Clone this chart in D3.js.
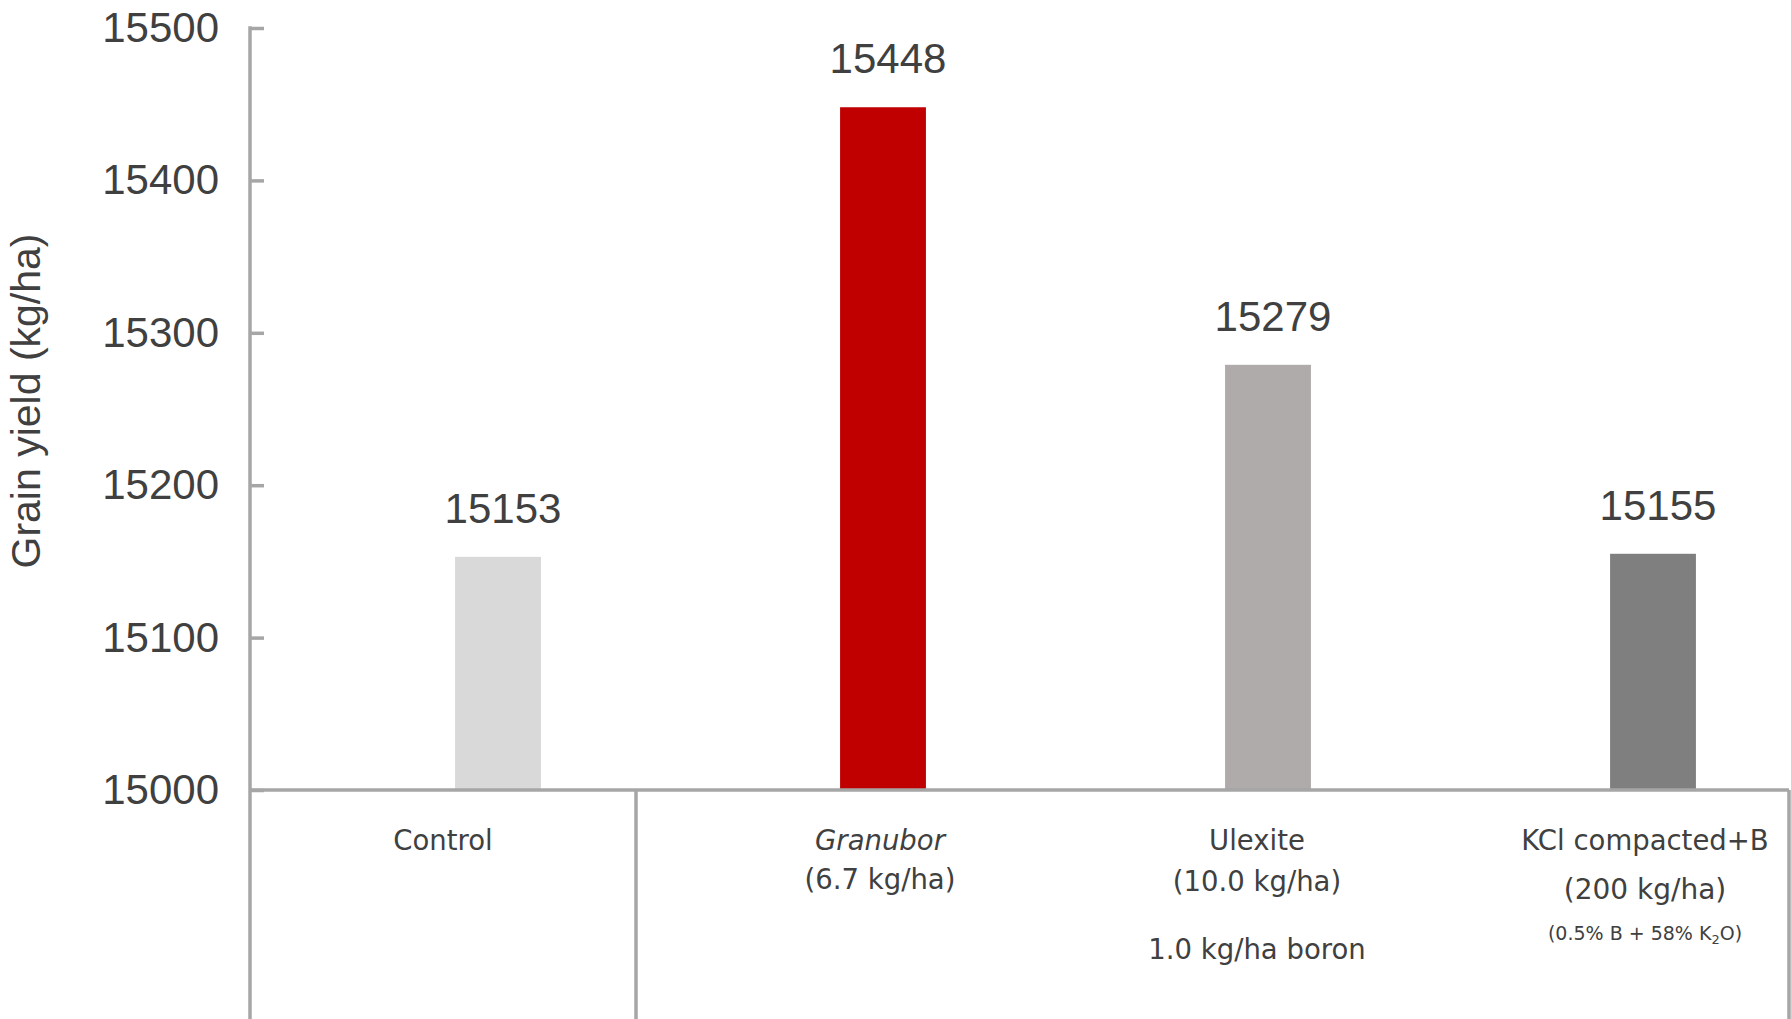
<!DOCTYPE html>
<html>
<head>
<meta charset="utf-8">
<script src="https://cdn.jsdelivr.net/npm/d3@7"></script>
<style>
  html, body { margin: 0; padding: 0; background: #fff; }
  svg { display: block; }
</style>
</head>
<body>
<svg id="chart-svg" width="1791" height="1019"></svg>
<script>
// chart data
const categories = ["Control", "Granubor", "Ulexite", "KCl compacted+B"];
const yields = [15153, 15448, 15279, 15155];
const barColors = ["#d9d9d9", "#c00000", "#afabab", "#7f7f7f"];
const yTicks = [15000, 15100, 15200, 15300, 15400, 15500];
const yTitle = "Grain yield (kg/ha)";

const WIDTH = 1791, HEIGHT = 1019;
const AXIS_X = 250;
const RIGHT_X = 1789;
const DIVIDER_X = 636;
const textColor = "#404040";
const lineColor = "#a6a6a6";

const svg = d3.select("#chart-svg");

const y = d3.scaleLinear()
    .domain([15000, 15500])
    .range([790, 28]);

const x = d3.scaleBand()
    .domain(categories)
    .range([305.5, 1845.5])
    .paddingInner(0.777)
    .paddingOuter(0.777 / 2);

// bars
svg.append("g")
    .selectAll("rect")
    .data(categories)
    .enter()
    .append("rect")
    .attr("x", d => x(d))
    .attr("width", x.bandwidth())
    .attr("y", (d, i) => y(yields[i]))
    .attr("height", (d, i) => y(15000) - y(yields[i]))
    .attr("fill", (d, i) => barColors[i]);

// value labels above bars
svg.append("g")
    .selectAll("text")
    .data(categories)
    .enter()
    .append("text")
    .attr("x", d => x(d) + x.bandwidth() / 2 + 5)
    .attr("y", (d, i) => y(yields[i]) - 34)
    .attr("text-anchor", "middle")
    .attr("font-family", "Liberation Sans, Arial, sans-serif")
    .attr("font-size", 42)
    .attr("fill", textColor)
    .text((d, i) => yields[i]);

// y axis (ticks point inward)
const yAxis = d3.axisLeft(y)
    .tickValues(yTicks)
    .tickFormat(d3.format("d"))
    .tickSizeInner(-14)
    .tickSizeOuter(0)
    .tickPadding(31);

const axisG = svg.append("g")
    .attr("transform", `translate(${ AXIS_X },0)`)
    .call(yAxis);
axisG.select(".domain").remove();
axisG.selectAll(".tick line")
    .attr("stroke", lineColor)
    .attr("stroke-width", 3.5);
axisG.selectAll(".tick text")
    .attr("font-family", "Liberation Sans, Arial, sans-serif")
    .attr("font-size", 42)
    .attr("fill", textColor);

// frame lines: y axis down to bottom, baseline, column divider, right edge
const frameLines = [
    { x1: AXIS_X, y1: y(15500) - 1.75, x2: AXIS_X, y2: HEIGHT },
    { x1: AXIS_X, y1: y(15000), x2: RIGHT_X, y2: y(15000) },
    { x1: DIVIDER_X, y1: y(15000), x2: DIVIDER_X, y2: HEIGHT },
    { x1: RIGHT_X, y1: y(15000), x2: RIGHT_X, y2: HEIGHT }
];
svg.append("g")
    .selectAll("line")
    .data(frameLines)
    .enter()
    .append("line")
    .attr("x1", d => d.x1)
    .attr("y1", d => d.y1)
    .attr("x2", d => d.x2)
    .attr("y2", d => d.y2)
    .attr("stroke", lineColor)
    .attr("stroke-width", 3.5);

// y axis title
svg.append("text")
    .attr("transform", `translate(40, 401) rotate(-90)`)
    .attr("text-anchor", "middle")
    .attr("font-family", "Liberation Sans, Arial, sans-serif")
    .attr("font-size", 41)
    .attr("fill", textColor)
    .text(yTitle);

// category labels (table cells below the axis)
const catFont = "DejaVu Sans, Verdana, sans-serif";
const cx = d => x(d) + x.bandwidth() / 2;

function addLabel(px, py, size, str, italic) {
    return svg.append("text")
        .attr("x", px)
        .attr("y", py)
        .attr("text-anchor", "middle")
        .attr("font-family", catFont)
        .attr("font-size", size)
        .attr("font-style", italic ? "italic" : "normal")
        .attr("fill", textColor)
        .text(str);
}

// Control is centred in its own cell
addLabel((AXIS_X + DIVIDER_X) / 2, 850, 27.5, "Control");

addLabel(cx("Granubor") - 3, 850, 27.5, "Granubor", true);
addLabel(cx("Granubor") - 3, 889, 27.5, "(6.7 kg/ha)");

addLabel(cx("Ulexite") - 11, 850, 27.5, "Ulexite");
addLabel(cx("Ulexite") - 11, 891, 27.5, "(10.0 kg/ha)");
addLabel(cx("Ulexite") - 11, 959, 27.5, "1.0 kg/ha boron");

addLabel(cx("KCl compacted+B") - 8, 850, 27.5, "KCl compacted+B");
addLabel(cx("KCl compacted+B") - 8, 899, 28, "(200 kg/ha)");

// small composition line with K2O subscript
const comp = svg.append("text")
    .attr("x", cx("KCl compacted+B") - 8)
    .attr("y", 940)
    .attr("text-anchor", "middle")
    .attr("font-family", catFont)
    .attr("font-size", 19)
    .attr("fill", textColor);
comp.append("tspan").text("(0.5% B + 58% K");
comp.append("tspan").attr("font-size", 13).attr("dy", 4).text("2");
comp.append("tspan").attr("dy", -4).text("O)");
</script>
</body>
</html>
